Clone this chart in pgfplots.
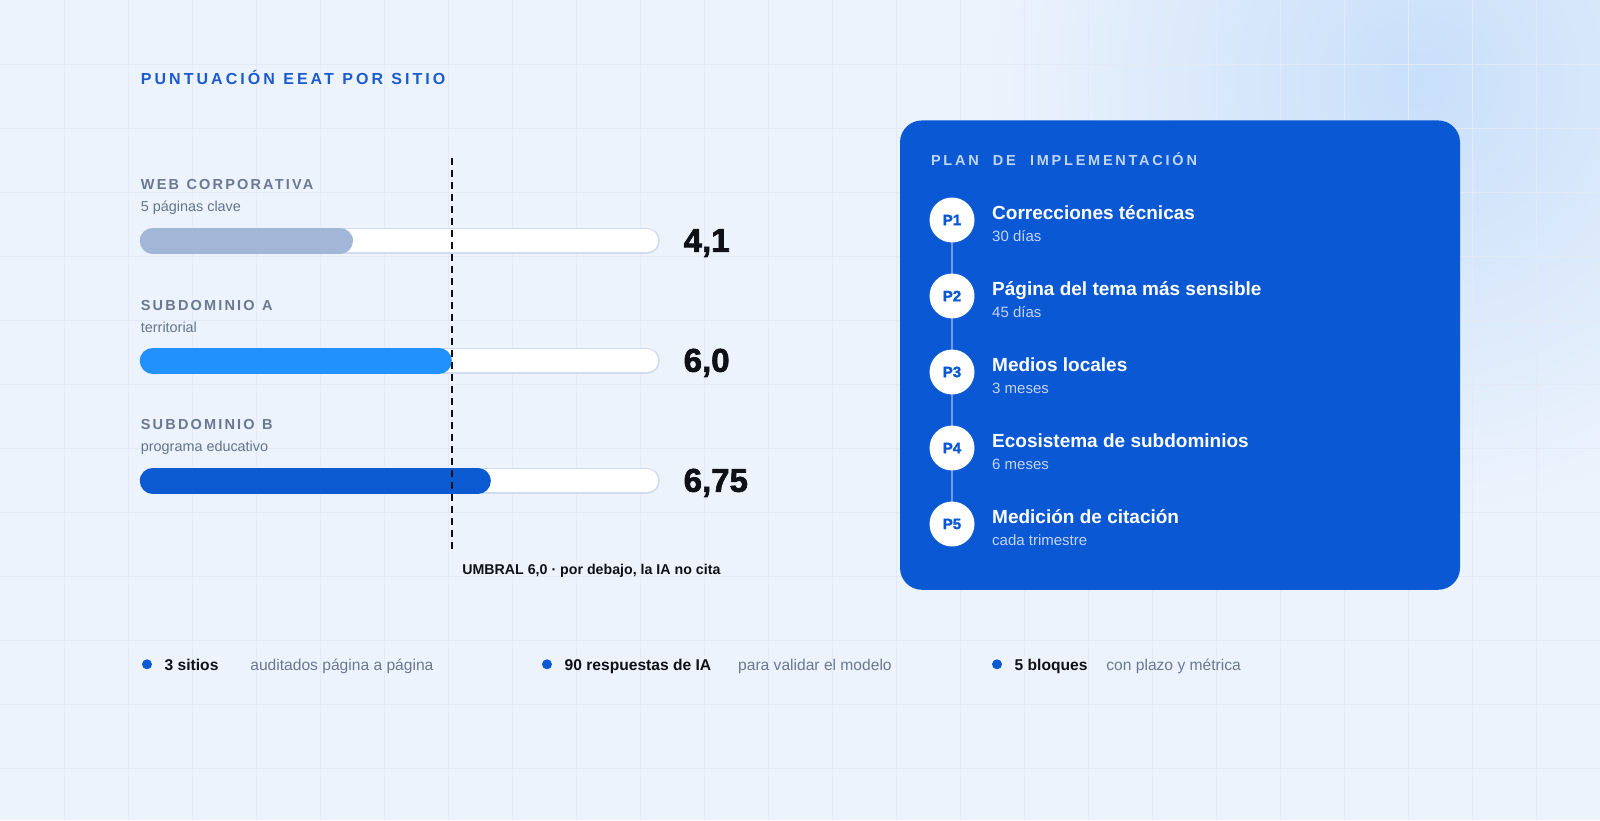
\documentclass[border=0pt]{standalone}
\usepackage{pgfplots}
\pgfplotsset{compat=1.18}
\usepackage{fontspec}
\setmainfont{Liberation Sans}
\newfontfamily\titlecaps[LetterSpace=19]{Liberation Sans}
\newfontfamily\panelcaps[LetterSpace=19, WordSpace=2.1]{Liberation Sans}
\newfontfamily\midcaps[LetterSpace=15, WordSpace=1.2]{Liberation Sans}
\newfontfamily\heavy[BoldFeatures={FakeBold=2}]{Liberation Sans}

\definecolor{bg}{HTML}{EDF3FC}
\definecolor{bgglow}{HTML}{C8DFFA}
\definecolor{gridc}{HTML}{E3EAF6}
\definecolor{titleblue}{HTML}{1A5BD0}
\definecolor{catgrey}{HTML}{6A7891}
\definecolor{subgrey}{HTML}{64748B}
\definecolor{ink}{HTML}{0E1116}
\definecolor{track}{HTML}{D0DDF0}
\definecolor{barweb}{HTML}{A2B7D8}
\definecolor{barsubA}{HTML}{2191FB}
\definecolor{barsubB}{HTML}{0B5AD2}
\definecolor{panel}{HTML}{0A58D3}
\definecolor{panelsoft}{HTML}{C3D5F6}
\definecolor{timeline}{HTML}{6E9BE8}

\newcommand\fs[1]{\fontsize{#1bp}{#1bp}\selectfont}
\newcommand\gap{\hspace{4.2bp}}

\pgfplotsset{
  pill/.style={line width=13bp, line cap=round, shorten <=6.5bp, shorten >=6.5bp, mark=none, forget plot},
}

\begin{document}
\begin{tikzpicture}
% frame in pixels of the reference: 1 unit = 0.5bp, y downwards
\begin{scope}[x=0.5bp, y=-0.5bp]
  \path[use as bounding box] (0,0) rectangle (1600,820);
  \fill[bg] (0,0) rectangle (1600,820);
  \begin{scope}
    \clip (0,0) rectangle (1600,820);
    \shade[inner color=bgglow, outer color=bg] (1420,80) circle (440);
  \end{scope}
  \foreach \g in {64,128,...,1590} \draw[gridc, line width=0.5bp] (\g,0) -- (\g,820);
  \foreach \g in {64,128,...,800} \draw[gridc, line width=0.5bp] (0,\g) -- (1600,\g);
  \coordinate (A) at (139.8,158);
\end{scope}

\begin{axis}[
  at={(A)}, anchor=north west,
  scale only axis, width=260bp, height=196.5bp,
  xmin=0, xmax=10, ymin=-0.69, ymax=2.585, y dir=reverse,
  hide axis, clip=false,
]
% tracks (score out of 10)
\pgfplotsinvokeforeach{0,1,2}{
  \addplot[pill, draw=track] coordinates {(0,#1) (10,#1)};
  \addplot[pill, draw=white, line width=11.4bp] coordinates {(0,#1) (10,#1)};
}
% scores
\addplot[pill, draw=barweb]  coordinates {(0,0) (4.1,0)};
\addplot[pill, draw=barsubA] coordinates {(0,1) (6.0,1)};
\addplot[pill, draw=barsubB] coordinates {(0,2) (6.75,2)};
% threshold 6.0
\addplot[ink, line width=1bp, dash pattern=on 3.5bp off 2.5bp, forget plot]
  coordinates {(6,-0.69) (6,2.585)};
\node[anchor=base west, inner sep=0, font=\heavy\bfseries\fs{16.5}, text=ink]
  at ([xshift=11.75bp, yshift=-5.5bp]axis cs:10,0) {4,1};
\node[anchor=base west, inner sep=0, font=\heavy\bfseries\fs{16.5}, text=ink]
  at ([xshift=11.75bp, yshift=-5.5bp]axis cs:10,1) {6,0};
\node[anchor=base west, inner sep=0, font=\heavy\bfseries\fs{16.5}, text=ink]
  at ([xshift=11.75bp, yshift=-5.5bp]axis cs:10,2) {6,75};
\end{axis}

\begin{scope}[x=0.5bp, y=-0.5bp]
  \node[anchor=base west, inner sep=0, font=\titlecaps\bfseries\fs{8}, text=titleblue]
    at (140.5,84.5) {PUNTUACIÓN\gap EEAT\gap POR\gap SITIO};
  % row labels
  \foreach \yy/\c/\s in {240.8/WEB CORPORATIVA/5 páginas clave,
                         361.2/SUBDOMINIO A/territorial,
                         480.6/SUBDOMINIO B/programa educativo}{
    \node[anchor=base west, inner sep=0, font=\midcaps\bfseries\fs{7.25}, text=catgrey]
      at (140.5,\yy-51) {\c};
    \node[anchor=base west, inner sep=0, font=\fs{7.2}, text=subgrey]
      at (140.5,\yy-29) {\s};
  }
  \node[anchor=base west, inner sep=0, font=\bfseries\fs{7.1}, text=ink]
    at (462,574.5) {UMBRAL 6,0 · por debajo, la IA no cita};

  % plan panel
  \fill[panel, rounded corners=11bp] (900,120.4) rectangle (1460,589.8);
  \node[anchor=base west, inner sep=0, font=\panelcaps\bfseries\fs{7.25}, text=panelsoft]
    at (930.6,165.3) {PLAN DE IMPLEMENTACIÓN};
  \draw[timeline, line width=1bp] (952,220) -- (952,524);
  \foreach \yy/\p/\t/\s in {220/P1/Correcciones técnicas/30 días,
                            296/P2/Página del tema más sensible/45 días,
                            372/P3/Medios locales/3 meses,
                            448/P4/Ecosistema de subdominios/6 meses,
                            524/P5/Medición de citación/cada trimestre}{
    \fill[white] (952,\yy) circle (22.5);
    \node[inner sep=0, font=\heavy\bfseries\fs{7.5}, text=panel] at (952,\yy) {\p};
    \node[anchor=base west, inner sep=0, font=\bfseries\fs{9.5}, text=white]
      at (991.8,\yy-1) {\t};
    \node[anchor=base west, inner sep=0, font=\fs{7.5}, text=panelsoft]
      at (991.8,\yy+21.5) {\s};
  }

  % bottom facts
  \foreach \dx/\bx/\gx/\b/\g in {147/164.3/250/3 sitios/auditados página a página,
                                 547/564.3/737.8/90 respuestas de IA/para validar el modelo,
                                 997/1014.3/1106/5 bloques/con plazo y métrica}{
    \fill[barsubB] (\dx,664.3) circle (5);
    \node[anchor=base west, inner sep=0, font=\bfseries\fs{7.8}, text=ink] at (\bx,670) {\b};
    \node[anchor=base west, inner sep=0, font=\fs{7.8}, text=catgrey] at (\gx,670) {\g};
  }
\end{scope}
\end{tikzpicture}
\end{document}
